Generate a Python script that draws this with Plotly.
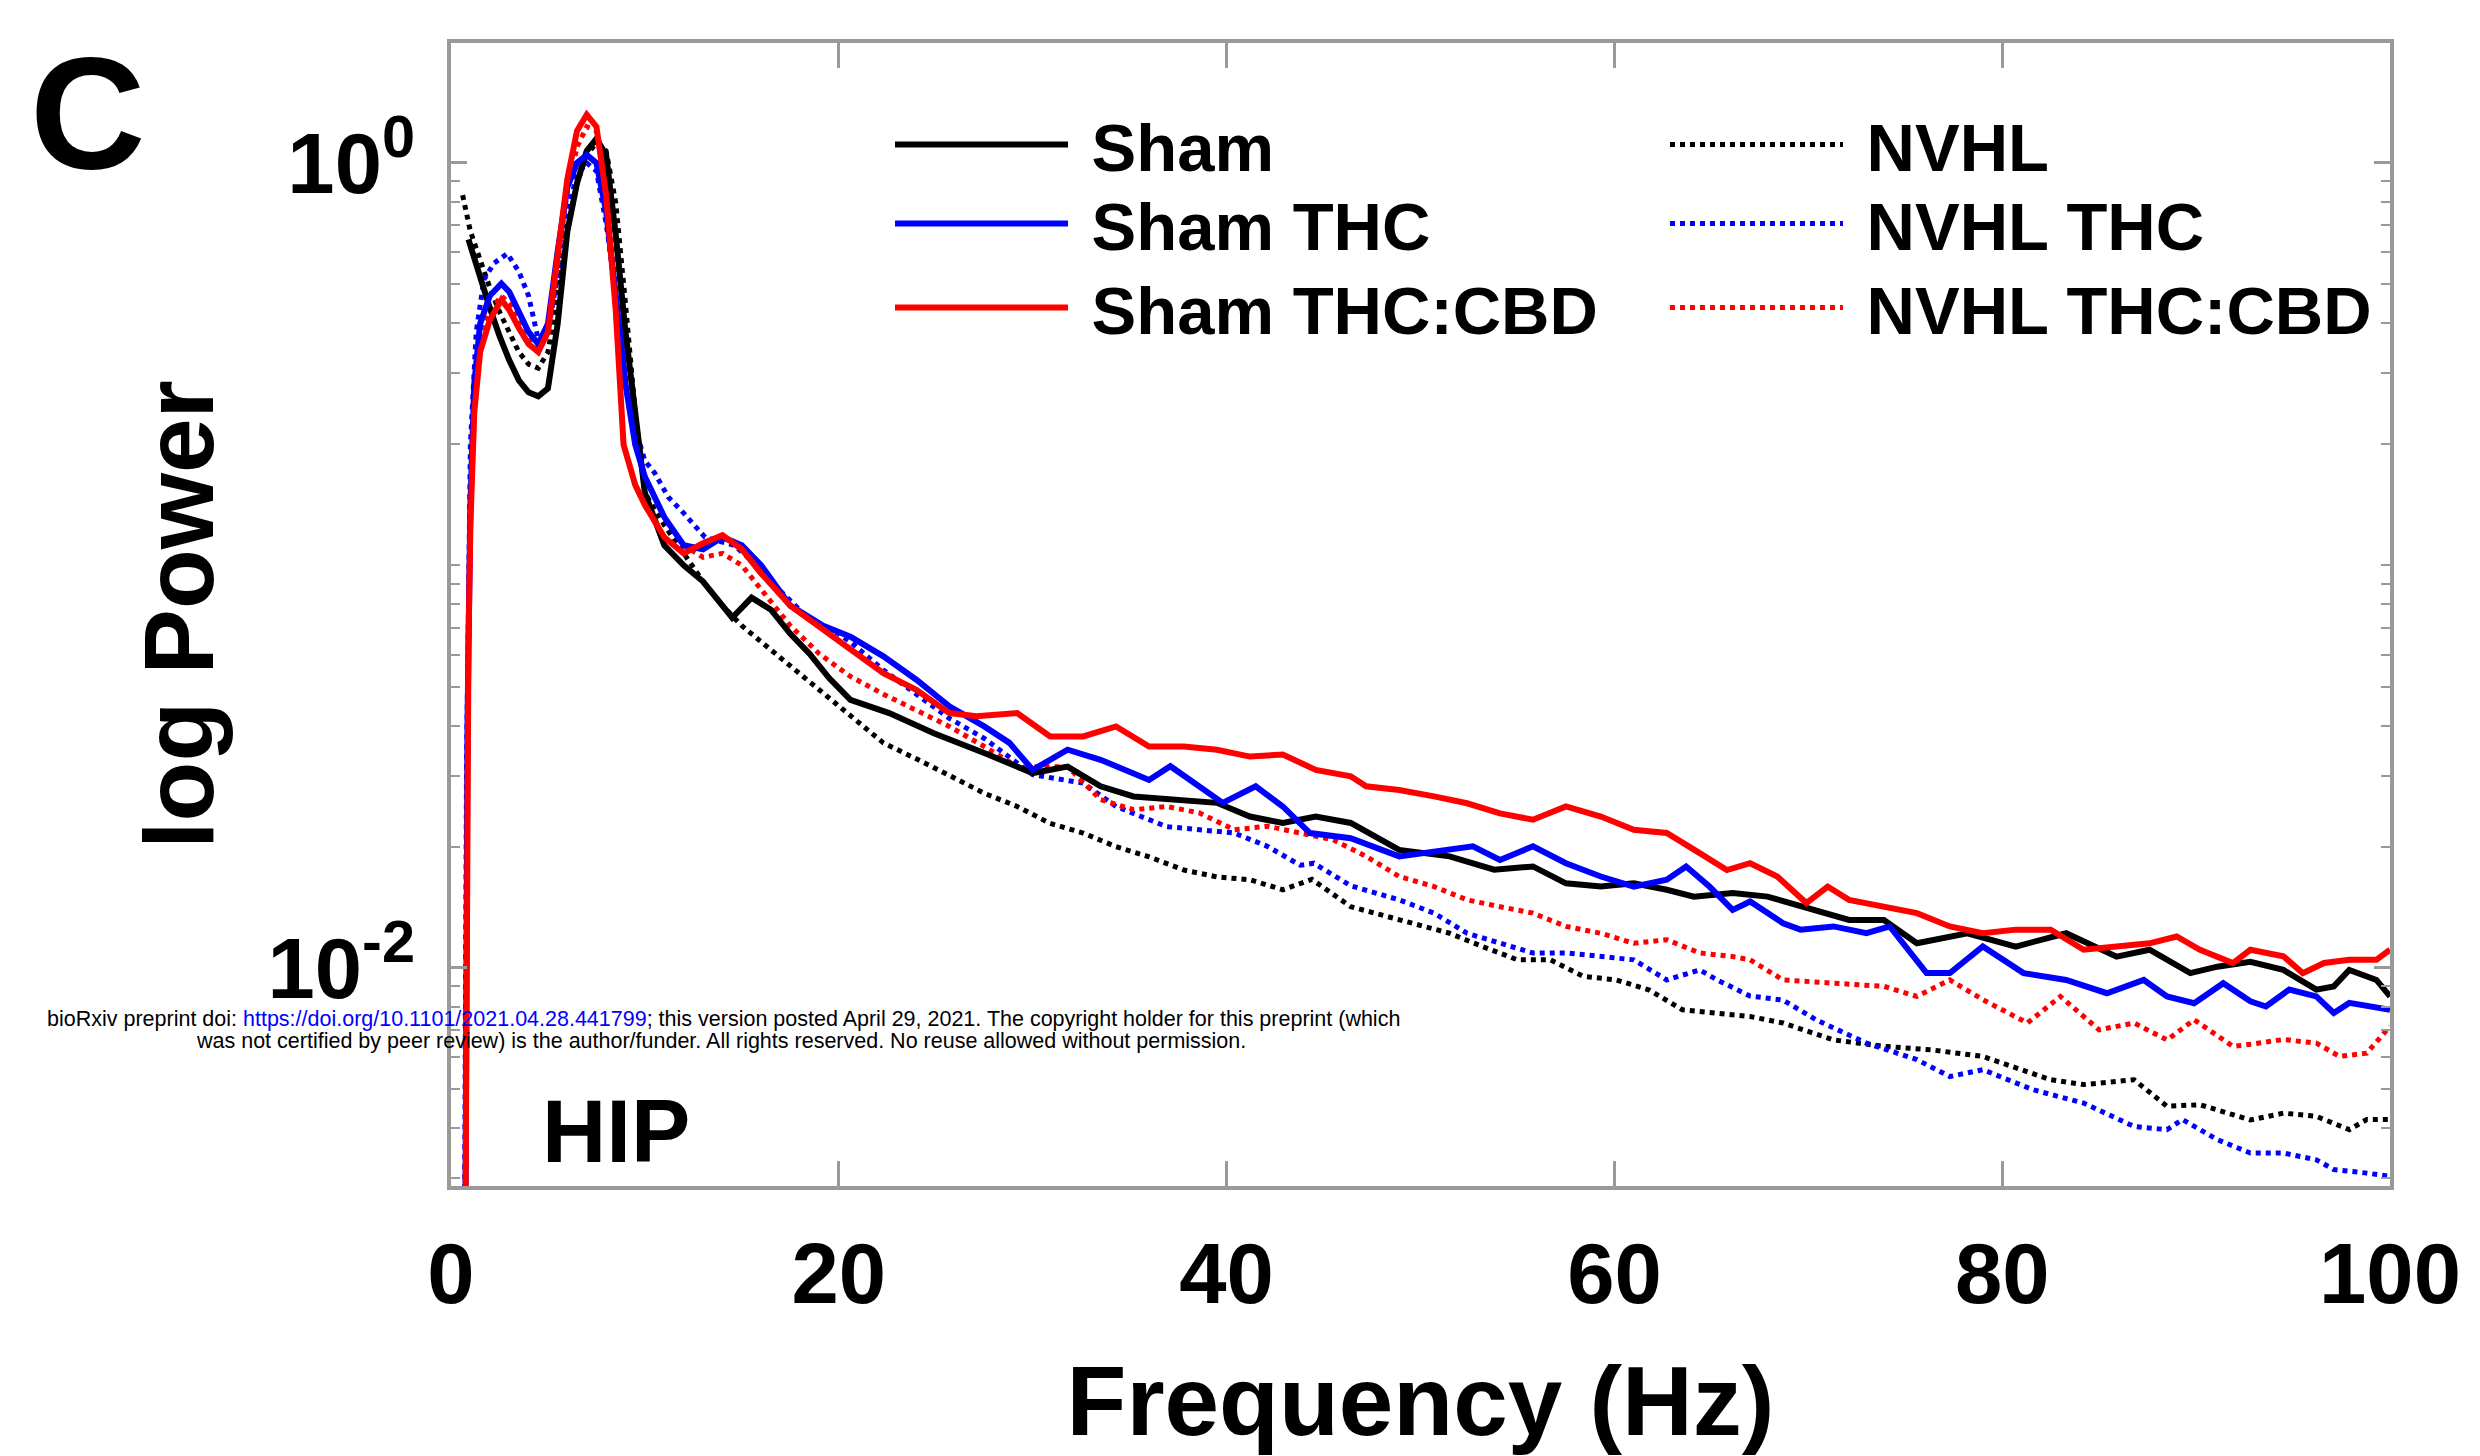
import numpy as np
import plotly.graph_objects as go

# ---------------- data (log10 power) ----------------
SHAM_F = [0.9, 1.5, 2.0, 2.5, 3.0, 3.5, 4.0, 4.5, 5.0, 5.5, 6.0, 6.5, 7.0, 7.5, 8.0, 8.5, 9.0, 9.5, 10.0,
          11.0, 12.0, 13.0, 14.0, 14.5, 15.5, 16.5, 17.5, 18.5, 19.5, 20.6, 22.6, 24.9, 27.5, 30.0, 31.8,
          33.5, 35.2, 37.8, 39.5, 41.2, 42.9, 44.6, 46.4, 48.9, 51.5, 53.8, 55.8, 57.5, 59.3, 61.0, 62.7,
          64.1, 66.1, 67.9, 69.6, 72.1, 73.9, 75.6, 78.2, 80.7, 83.3, 85.9, 87.6, 89.7, 91.1, 92.8, 94.5,
          96.2, 97.1, 97.9, 99.3, 100.0]
SHAM_L = [-0.19, -0.29, -0.36, -0.43, -0.49, -0.54, -0.57, -0.58, -0.56, -0.40, -0.17, -0.05, 0.03, 0.06,
          0.02, -0.18, -0.42, -0.62, -0.82, -0.95, -1.00, -1.04, -1.10, -1.13, -1.08, -1.11, -1.17, -1.22,
          -1.28, -1.334, -1.367, -1.417, -1.466, -1.516, -1.500, -1.549, -1.574, -1.582, -1.590, -1.624,
          -1.640, -1.624, -1.640, -1.707, -1.723, -1.756, -1.748, -1.790, -1.798, -1.790, -1.806, -1.823,
          -1.814, -1.823, -1.847, -1.881, -1.881, -1.939, -1.914, -1.947, -1.914, -1.972, -1.955, -2.013,
          -1.997, -1.985, -2.005, -2.054, -2.046, -2.005, -2.030, -2.071]

SHAM_THC_F = [0.75, 0.85, 1.0, 1.2, 1.5, 2.0, 2.6, 3.0, 3.5, 4.0, 4.5, 5.0, 5.5, 6.0, 6.5, 7.0, 7.5, 8.0,
              8.5, 9.0, 9.5, 10.0, 11.0, 12.0, 13.0, 14.0, 15.0, 16.0, 17.5, 19.2, 20.6, 22.3, 24.0, 25.7,
              27.5, 28.8, 30.0, 31.8, 33.5, 35.2, 36.0, 37.1, 38.6, 39.8, 41.5, 42.9, 44.3, 46.4, 48.9,
              51.5, 52.7, 54.1, 55.8, 57.5, 59.3, 61.0, 62.7, 63.7, 64.9, 66.1, 67.0, 68.7, 69.6, 71.3,
              73.0, 74.2, 76.1, 77.3, 79.0, 81.1, 83.3, 85.4, 87.3, 88.5, 89.9, 91.4, 92.8, 93.6, 94.8,
              96.2, 97.1, 97.9, 100.0]
SHAM_THC_L = [-2.6, -1.4, -0.85, -0.55, -0.40, -0.33, -0.30, -0.32, -0.37, -0.42, -0.45, -0.40, -0.22,
              -0.06, 0.0, 0.02, 0.0, -0.12, -0.33, -0.55, -0.70, -0.78, -0.88, -0.95, -0.96, -0.93, -0.95,
              -1.00, -1.10, -1.15, -1.177, -1.226, -1.284, -1.350, -1.400, -1.441, -1.508, -1.458, -1.483,
              -1.516, -1.533, -1.499, -1.549, -1.590, -1.549, -1.599, -1.665, -1.678, -1.723, -1.707,
              -1.698, -1.732, -1.698, -1.740, -1.773, -1.798, -1.781, -1.748, -1.798, -1.856, -1.835,
              -1.889, -1.905, -1.897, -1.914, -1.897, -2.013, -2.013, -1.947, -2.013, -2.030, -2.063,
              -2.030, -2.071, -2.088, -2.038, -2.083, -2.096, -2.054, -2.071, -2.112, -2.087, -2.104]

SHAM_THC_CBD_F = [0.75, 0.8, 0.9, 1.0, 1.2, 1.5, 2.0, 2.6, 3.0, 3.5, 4.0, 4.5, 5.0, 5.5, 6.0, 6.5, 7.0,
                  7.5, 8.0, 8.5, 8.9, 9.5, 10.0, 11.0, 12.0, 13.0, 14.0, 15.0, 16.0, 17.5, 19.2, 20.6,
                  22.3, 24.0, 25.7, 27.1, 29.2, 30.9, 32.6, 34.3, 36.0, 37.8, 39.5, 41.2, 42.9, 44.6,
                  46.4, 47.2, 48.9, 50.7, 52.4, 54.1, 55.8, 57.5, 59.3, 61.0, 62.7, 64.4, 65.8, 67.0,
                  68.4, 69.9, 71.0, 72.1, 73.9, 75.6, 77.3, 79.0, 80.7, 82.5, 84.2, 85.9, 87.6, 89.0,
                  90.2, 91.9, 92.8, 94.5, 95.5, 96.6, 97.9, 99.3, 100.0]
SHAM_THC_CBD_L = [-2.6, -1.8, -1.2, -0.90, -0.62, -0.47, -0.39, -0.34, -0.365, -0.41, -0.45, -0.47,
                  -0.42, -0.23, -0.04, 0.08, 0.12, 0.09, -0.08, -0.37, -0.70, -0.80, -0.85, -0.93, -0.97,
                  -0.945, -0.925, -0.96, -1.02, -1.10, -1.16, -1.21, -1.268, -1.309, -1.367, -1.375,
                  -1.367, -1.425, -1.425, -1.400, -1.450, -1.450, -1.458, -1.475, -1.470, -1.508, -1.524,
                  -1.549, -1.558, -1.574, -1.591, -1.616, -1.632, -1.599, -1.624, -1.657, -1.665, -1.715,
                  -1.757, -1.740, -1.773, -1.839, -1.798, -1.831, -1.847, -1.864, -1.897, -1.914, -1.905,
                  -1.905, -1.955, -1.947, -1.939, -1.922, -1.955, -1.988, -1.955, -1.971, -2.013, -1.988,
                  -1.980, -1.980, -1.955]

NVHL_F = [0.6, 0.8, 1.0, 1.5, 2.0, 2.5, 3.0, 3.5, 4.0, 4.5, 5.0, 5.5, 6.0, 6.5, 7.0, 7.5, 8.0, 8.5, 9.0,
          9.5, 10.0, 11.0, 12.0, 13.0, 14.0, 15.0, 16.0, 17.5, 19.0, 20.6, 22.3, 24.1, 25.8, 27.5, 29.2,
          30.9, 32.6, 34.3, 36.0, 37.8, 39.5, 41.2, 42.9, 44.4, 46.4, 48.9, 51.5, 53.2, 55.0, 56.7, 58.4,
          60.1, 61.8, 63.5, 65.3, 67.0, 68.7, 71.3, 73.9, 76.4, 79.0, 81.6, 82.5, 84.2, 86.8, 88.5, 90.2,
          92.8, 94.5, 96.2, 97.9, 98.8, 100.0]
NVHL_L = [-0.08, -0.12, -0.17, -0.24, -0.31, -0.37, -0.42, -0.47, -0.50, -0.51, -0.47, -0.33, -0.17,
          -0.05, 0.02, 0.05, 0.03, -0.10, -0.35, -0.62, -0.82, -0.90, -0.97, -1.04, -1.10, -1.15, -1.19,
          -1.25, -1.31, -1.376, -1.441, -1.483, -1.525, -1.566, -1.599, -1.641, -1.665, -1.699, -1.724,
          -1.757, -1.774, -1.781, -1.806, -1.780, -1.848, -1.881, -1.914, -1.947, -1.980, -1.980, -2.021,
          -2.030, -2.055, -2.104, -2.113, -2.121, -2.137, -2.179, -2.195, -2.204, -2.220, -2.262, -2.278,
          -2.290, -2.278, -2.344, -2.340, -2.378, -2.361, -2.369, -2.402, -2.377, -2.377]

NVHL_THC_F = [0.7, 0.8, 1.0, 1.3, 1.7, 2.2, 2.9, 3.5, 4.0, 4.6, 5.0, 5.5, 6.0, 6.5, 7.0, 7.5, 8.0, 8.5,
              9.0, 9.5, 10.0, 10.5, 11.2, 12.0, 13.1, 14.6, 15.8, 16.7, 18.4, 20.0, 20.6, 22.3, 24.0,
              25.7, 27.5, 30.0, 32.6, 34.3, 36.9, 38.6, 40.4, 42.1, 43.8, 44.5, 46.4, 48.9, 50.7, 52.4,
              54.1, 55.8, 57.5, 59.3, 61.0, 62.7, 64.4, 65.3, 67.0, 68.7, 70.4, 73.0, 75.6, 77.3, 79.0,
              81.6, 84.2, 86.8, 88.5, 89.3, 91.1, 92.8, 94.5, 96.2, 97.1, 98.8, 100.0]
NVHL_THC_L = [-2.6, -1.5, -0.70, -0.42, -0.29, -0.25, -0.225, -0.27, -0.33, -0.46, -0.42, -0.28, -0.12,
              -0.03, 0.0, -0.02, -0.15, -0.32, -0.50, -0.66, -0.74, -0.77, -0.83, -0.87, -0.93, -0.95,
              -1.00, -1.05, -1.13, -1.17, -1.19, -1.26, -1.32, -1.38, -1.43, -1.52, -1.541, -1.599,
              -1.649, -1.657, -1.665, -1.698, -1.745, -1.740, -1.796, -1.831, -1.864, -1.914, -1.939,
              -1.963, -1.963, -1.972, -1.980, -2.030, -2.005, -2.030, -2.070, -2.080, -2.129, -2.187,
              -2.228, -2.270, -2.253, -2.303, -2.336, -2.394, -2.402, -2.377, -2.427, -2.460, -2.460,
              -2.477, -2.501, -2.510, -2.518]

NVHL_THC_CBD_F = [0.75, 0.85, 1.0, 1.2, 1.5, 2.0, 2.6, 3.0, 3.5, 4.0, 4.5, 5.0, 5.5, 6.0, 6.5, 7.0, 7.5,
                  8.0, 8.5, 9.0, 9.5, 10.0, 11.0, 12.0, 13.0, 14.0, 15.0, 16.0, 17.5, 19.0, 20.6, 22.3,
                  24.0, 25.7, 27.5, 29.2, 31.8, 33.5, 35.2, 36.9, 38.6, 40.4, 42.1, 43.8, 45.5, 47.2,
                  48.9, 50.7, 52.4, 54.1, 55.8, 57.5, 59.3, 61.0, 62.7, 64.4, 66.1, 67.0, 68.7, 71.3,
                  73.9, 75.6, 77.3, 79.0, 81.3, 83.0, 85.0, 86.8, 88.5, 89.9, 91.9, 92.8, 94.5, 96.2,
                  97.4, 98.8, 100.0]
NVHL_THC_CBD_L = [-2.6, -1.4, -0.88, -0.58, -0.44, -0.37, -0.33, -0.35, -0.39, -0.43, -0.46, -0.41,
                  -0.24, -0.07, 0.04, 0.09, 0.08, -0.02, -0.25, -0.50, -0.68, -0.78, -0.88, -0.95, -0.98,
                  -0.97, -1.00, -1.06, -1.15, -1.22, -1.276, -1.32, -1.36, -1.40, -1.45, -1.50, -1.50,
                  -1.582, -1.607, -1.599, -1.615, -1.657, -1.648, -1.665, -1.682, -1.723, -1.773, -1.798,
                  -1.831, -1.848, -1.864, -1.897, -1.914, -1.939, -1.930, -1.963, -1.972, -1.980, -2.030,
                  -2.038, -2.046, -2.071, -2.030, -2.079, -2.137, -2.071, -2.154, -2.137, -2.179, -2.129,
                  -2.195, -2.190, -2.178, -2.187, -2.220, -2.212, -2.145]

X_TICKS = [0, 20, 40, 60, 80, 100]
Y_TICKS = [0, -2]
Y_TICK_TEXT = ["10<sup>0</sup>", "10<sup>-2</sup>"]

# ---------------- figure ----------------
FONT = "Liberation Sans, Arial, Helvetica, sans-serif"
BLACK, BLUE, RED = "#000000", "#0000ff", "#ff0000"
AXCOL = "#9a9a9a"
NB = "\u00a0"  # gap between legend line and its label

traces = [
    ("NVHL", NVHL_F, NVHL_L, BLACK, "dot", "legend4"),
    ("NVHL THC", NVHL_THC_F, NVHL_THC_L, BLUE, "dot", "legend5"),
    ("NVHL THC:CBD", NVHL_THC_CBD_F, NVHL_THC_CBD_L, RED, "dot", "legend6"),
    ("Sham", SHAM_F, SHAM_L, BLACK, "solid", "legend"),
    ("Sham THC", SHAM_THC_F, SHAM_THC_L, BLUE, "solid", "legend2"),
    ("Sham THC:CBD", SHAM_THC_CBD_F, SHAM_THC_CBD_L, RED, "solid", "legend3"),
]

fig = go.Figure()
for name, f, l, col, dash, leg in traces:
    fig.add_trace(go.Scatter(
        x=f, y=l, mode="lines", name=NB + name, legend=leg,
        line=dict(color=col, width=6 if dash == "solid" else 5, dash=dash),
    ))

W, H = 2480, 1456
L_M, R_M, T_M, B_M = 451, 90, 43, 270
PW, PH = W - L_M - R_M, H - T_M - B_M

def px(xpix):
    return (xpix - L_M) / PW

def py(ypix):
    return (H - B_M - ypix) / PH

minor_vals = [d + np.log10(k) for d in (-3, -2, -1, 0) for k in range(1, 10)
              if not (k == 1 and d in (0, -2))]

legend_common = dict(
    bgcolor="rgba(0,0,0,0)", borderwidth=0, itemwidth=173,
    font=dict(family=FONT, size=67, color="#000000", weight="bold"),
    xanchor="left", yanchor="middle", itemclick=False,
)
rows_y = [145, 224, 308]
col_x = [890, 1665]
leg_layout = {}
names = ["legend", "legend2", "legend3", "legend4", "legend5", "legend6"]
for i, nm in enumerate(names):
    c, r = divmod(i, 3)
    leg_layout[nm] = dict(legend_common, x=px(col_x[c]), y=py(rows_y[r]))

fig.update_layout(
    width=W, height=H,
    margin=dict(l=L_M, r=R_M, t=T_M, b=B_M),
    plot_bgcolor="white", paper_bgcolor="white",
    showlegend=True,
    **leg_layout,
    xaxis=dict(
        range=[0, 100], tickvals=X_TICKS, ticks="inside", ticklen=25, tickwidth=3,
        tickcolor=AXCOL, showline=True, linecolor=AXCOL, linewidth=4, mirror="ticks",
        showgrid=False, zeroline=False, automargin=False,
        tickfont=dict(family=FONT, size=85, color="#000000", weight="bold"),
        ticklabelstandoff=11,
        title=dict(text="Frequency (Hz)", standoff=61,
                   font=dict(family=FONT, size=98, color="#000000", weight="bold")),
    ),
    yaxis=dict(
        range=[-2.542, 0.298], tickvals=Y_TICKS, ticktext=Y_TICK_TEXT, ticks="inside",
        ticklen=16, tickwidth=3, tickcolor=AXCOL, showline=True, linecolor=AXCOL, linewidth=4,
        mirror="ticks", showgrid=False, zeroline=False, automargin=False,
        minor=dict(tickvals=minor_vals, ticks="inside", ticklen=9, tickwidth=2, tickcolor=AXCOL,
                   showgrid=False),
        tickfont=dict(family=FONT, size=85, color="#000000", weight="bold"),
        ticklabelstandoff=15,
        title=dict(text="log Power", standoff=22,
                   font=dict(family=FONT, size=98, color="#000000", weight="bold")),
    ),
)

fig.add_annotation(text="C", xref="paper", yref="paper", x=px(88), y=py(112),
                   xanchor="center", yanchor="middle", showarrow=False,
                   font=dict(family=FONT, size=160, color="#000000", weight="bold"))
fig.add_annotation(text="HIP", xref="paper", yref="paper", x=px(616), y=py(1131),
                   xanchor="center", yanchor="middle", showarrow=False,
                   font=dict(family=FONT, size=89, color="#000000", weight="bold"))
fig.add_annotation(
    text=("bioRxiv preprint doi: <span style='color:#0000ff'>https://doi.org/10.1101/2021.04.28.441799</span>; "
          "this version posted April 29, 2021. The copyright holder for this preprint (which"),
    xref="paper", yref="paper", x=px(723), y=py(1019), xanchor="center", yanchor="middle",
    showarrow=False, font=dict(family=FONT, size=21.5, color="#000000"))
fig.add_annotation(
    text=("was not certified by peer review) is the author/funder. All rights reserved. "
          "No reuse allowed without permission."),
    xref="paper", yref="paper", x=px(721), y=py(1041), xanchor="center", yanchor="middle",
    showarrow=False, font=dict(family=FONT, size=21.5, color="#000000"))

fig.write_html("out.html")
